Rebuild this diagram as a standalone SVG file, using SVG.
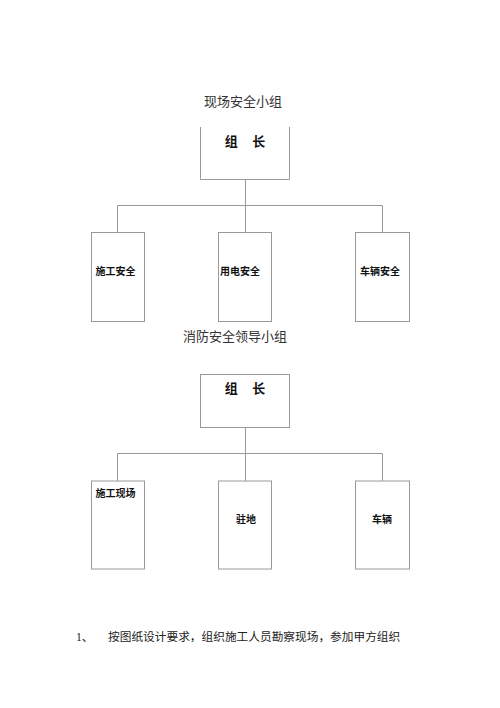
<svg xmlns="http://www.w3.org/2000/svg" width="500" height="708" viewBox="0 0 500 708">
<style>
.bg{fill:#ffffff}
.box{fill:#ffffff;stroke:#999999;stroke-width:1}
.ln{fill:none;stroke:#999999;stroke-width:1}
.title{font-family:"Liberation Serif","Noto Sans CJK SC",serif;font-size:13px;fill:#333333;text-anchor:middle}
.head{font-family:"Liberation Sans","Noto Sans CJK SC",sans-serif;font-size:13px;font-weight:bold;fill:#111111;text-anchor:middle;word-spacing:11px}
.lbl{font-family:"Liberation Sans","Noto Sans CJK SC",sans-serif;font-size:10px;font-weight:bold;fill:#111111}
.body{font-family:"Liberation Serif","Noto Sans CJK SC",serif;font-size:11.7px;fill:#222222}
</style>
<rect class="bg" x="0" y="0" width="500" height="708"/>
<text class="title" x="243" y="106">现场安全小组</text>
<text class="title" x="235" y="341">消防安全领导小组</text>
<g id="connectors">
<path class="ln" d="M245.5 179.5 V205.5 M117.5 205.5 H382.5 M117.5 205.5 V232 M245.5 205.5 V232 M382.5 205.5 V232"/>
<path class="ln" d="M245.5 427.5 V453.5 M117.5 453.5 H382.5 M117.5 453.5 V481 M245.5 453.5 V481 M382.5 453.5 V481"/>
</g>
<g id="leader1">
<path class="box" d="M200.5 127 V179.5 H289.5 V127"/>
<text class="head" x="245" y="146">组 长</text>
</g>
<g id="node-shigong-anquan">
<rect class="box" x="91.5" y="232.5" width="53" height="89"/>
<text class="lbl" x="95.5" y="275">施工安全</text>
</g>
<g id="node-yongdian-anquan">
<rect class="box" x="218.5" y="232.5" width="53" height="89"/>
<text class="lbl" x="220" y="275">用电安全</text>
</g>
<g id="node-cheliang-anquan">
<rect class="box" x="355.5" y="232.5" width="54" height="89"/>
<text class="lbl" x="360" y="275">车辆安全</text>
</g>
<g id="leader2">
<rect class="box" x="200.5" y="374.5" width="89" height="53"/>
<text class="head" x="245" y="393">组 长</text>
</g>
<g id="node-shigong-xianchang">
<rect class="box" x="91.5" y="481" width="53" height="88"/>
<text class="lbl" x="95.5" y="497">施工现场</text>
</g>
<g id="node-zhudi">
<rect class="box" x="218.5" y="481" width="53" height="88"/>
<text class="lbl" x="236" y="523">驻地</text>
</g>
<g id="node-cheliang">
<rect class="box" x="355.5" y="481" width="54" height="88"/>
<text class="lbl" x="372" y="523">车辆</text>
</g>
<text class="body" x="76" y="641">1、</text>
<text class="body" x="108" y="641">按图纸设计要求，组织施工人员勘察现场，参加甲方组织</text>
</svg>
